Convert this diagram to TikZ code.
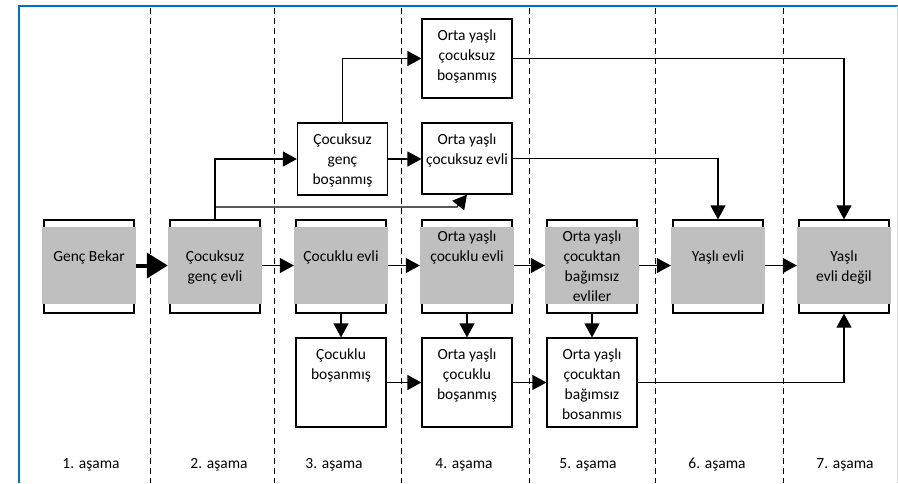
\documentclass[tikz,border=0pt]{standalone}
\usepackage{fontspec}
\setmainfont{Carlito}
\usetikzlibrary{arrows.meta,positioning}
\definecolor{stagegray}{RGB}{191,191,191}
\definecolor{framebl}{RGB}{0,112,192}

\begin{document}
\begin{tikzpicture}[x=1pt, y=-1pt,
  every node/.style={font=\fontsize{15.5pt}{20pt}\selectfont},
  frame/.style={draw, line width=1.2pt, fill=white, minimum width=90pt, minimum height=93pt, inner sep=0pt},
  stage/.style={fill=stagegray, minimum width=94pt, minimum height=77pt, inner sep=0pt},
  box/.style={draw, line width=1.2pt, fill=white, minimum width=90pt, inner sep=0pt},
  txt/.style={align=center, inner sep=0pt},
  arr/.style={line width=1.2pt, -{Triangle[length=14pt,width=15pt]}},
  bigarr/.style={line width=4pt, -{Triangle[length=21pt,width=25pt]}},
  sep/.style={dash pattern=on 6pt off 4pt, line width=1pt}
]
\useasboundingbox (0,0) rectangle (898,483);

% frame
\draw[framebl, line width=1.5pt] (19,483) -- (19,6) -- (898,6);
\draw[black!15, line width=1pt] (897,6) -- (897,483);

% stage separators
\foreach \x in {150,274,401,529,655,783}
  \draw[sep] (\x,8) -- (\x,483);

% stage labels
\foreach \x/\n in {91/1,219/2,334/3,464/4,588/5,717/6,845/7}
  \node (st\n) at (\x,465) {\n. aşama};

% main row
\foreach \x [count=\i] in {89,215,341,467,592,718,844} {
  \node[frame] (s\i) at (\x,266.5) {};
  \node[stage] (g\i) at (\x,265.5) {};
}
\node[txt, below=23.5pt of g1.north] (t1) {Genç Bekar};
\node[txt, below=23.5pt of g2.north] (t2) {Çocuksuz\\genç evli};
\node[txt, below=23.5pt of g3.north] (t3) {Çocuklu evli};
\node[txt, below=3.5pt of g4.north] (t4) {Orta yaşlı\\çocuklu evli};
\node[txt, below=3.5pt of g5.north] (t5) {Orta yaşlı\\çocuktan\\bağımsız\\evliler};
\node[txt, below=23.5pt of g6.north] (t6) {Yaşlı evli};
\node[txt, below=23.5pt of g7.north] (t7) {Yaşlı\\evli değil};

% upper branch
\node[box, minimum height=72pt] (cgb) at (342.5,159) {};
\node[txt, below=11pt of cgb.north] (cgbt) {Çocuksuz\\genç\\boşanmış};
\node[box, minimum height=79pt] (oycb) at (467,58.5) {};
\node[txt, below=11pt of oycb.north] (oycbt) {Orta yaşlı\\çocuksuz\\boşanmış};
\node[box, minimum height=71pt] (oyce) at (467,158.5) {};
\node[txt, below=11pt of oyce.north] (oycet) {Orta yaşlı\\çocuksuz evli};

% lower branch
\node[box, minimum height=89pt] (cb) at (341,382.5) {};
\node[txt, below=11pt of cb.north] (cbt) {Çocuklu\\boşanmış};
\node[box, minimum height=89pt] (oycbo) at (467,382.5) {};
\node[txt, below=11pt of oycbo.north] (oycbot) {Orta yaşlı\\çocuklu\\boşanmış};
\node[box, minimum height=89pt] (oyctb) at (592,382.5) {};
\node[txt, below=11pt of oyctb.north] (oyctbt) {Orta yaşlı\\çocuktan\\bağımsız\\bosanmıs};

% connectors
\coordinate (j) at (215,207);
\coordinate (jt) at (457,207);
\draw[bigarr] (g1.east) -- (g2.west);
\foreach \a/\b in {2/3,3/4,4/5,5/6,6/7}
  \draw[arr] (g\a.east) -- (g\b.west);
\draw[arr] (s2.north) |- (cgb.west);
\draw[arr] (j) -- (jt) -- (oyce.south);
\draw[arr] (cgb.east) -- (cgb.east -| oyce.west);
\draw[arr] (cgb.north) |- (oycb.west);
\draw[arr] (oycb.east) -| (s7.north);
\draw[arr] (oyce.east) -| (s6.north);
\draw[arr] (s3.south) -- (cb.north);
\draw[arr] (s4.south) -- (oycbo.north);
\draw[arr] (s5.south) -- (oyctb.north);
\draw[arr] (cb.east) -- (oycbo.west);
\draw[arr] (oycbo.east) -- (oyctb.west);
\draw[arr] (oyctb.east) -| (s7.south);
\end{tikzpicture}
\end{document}
